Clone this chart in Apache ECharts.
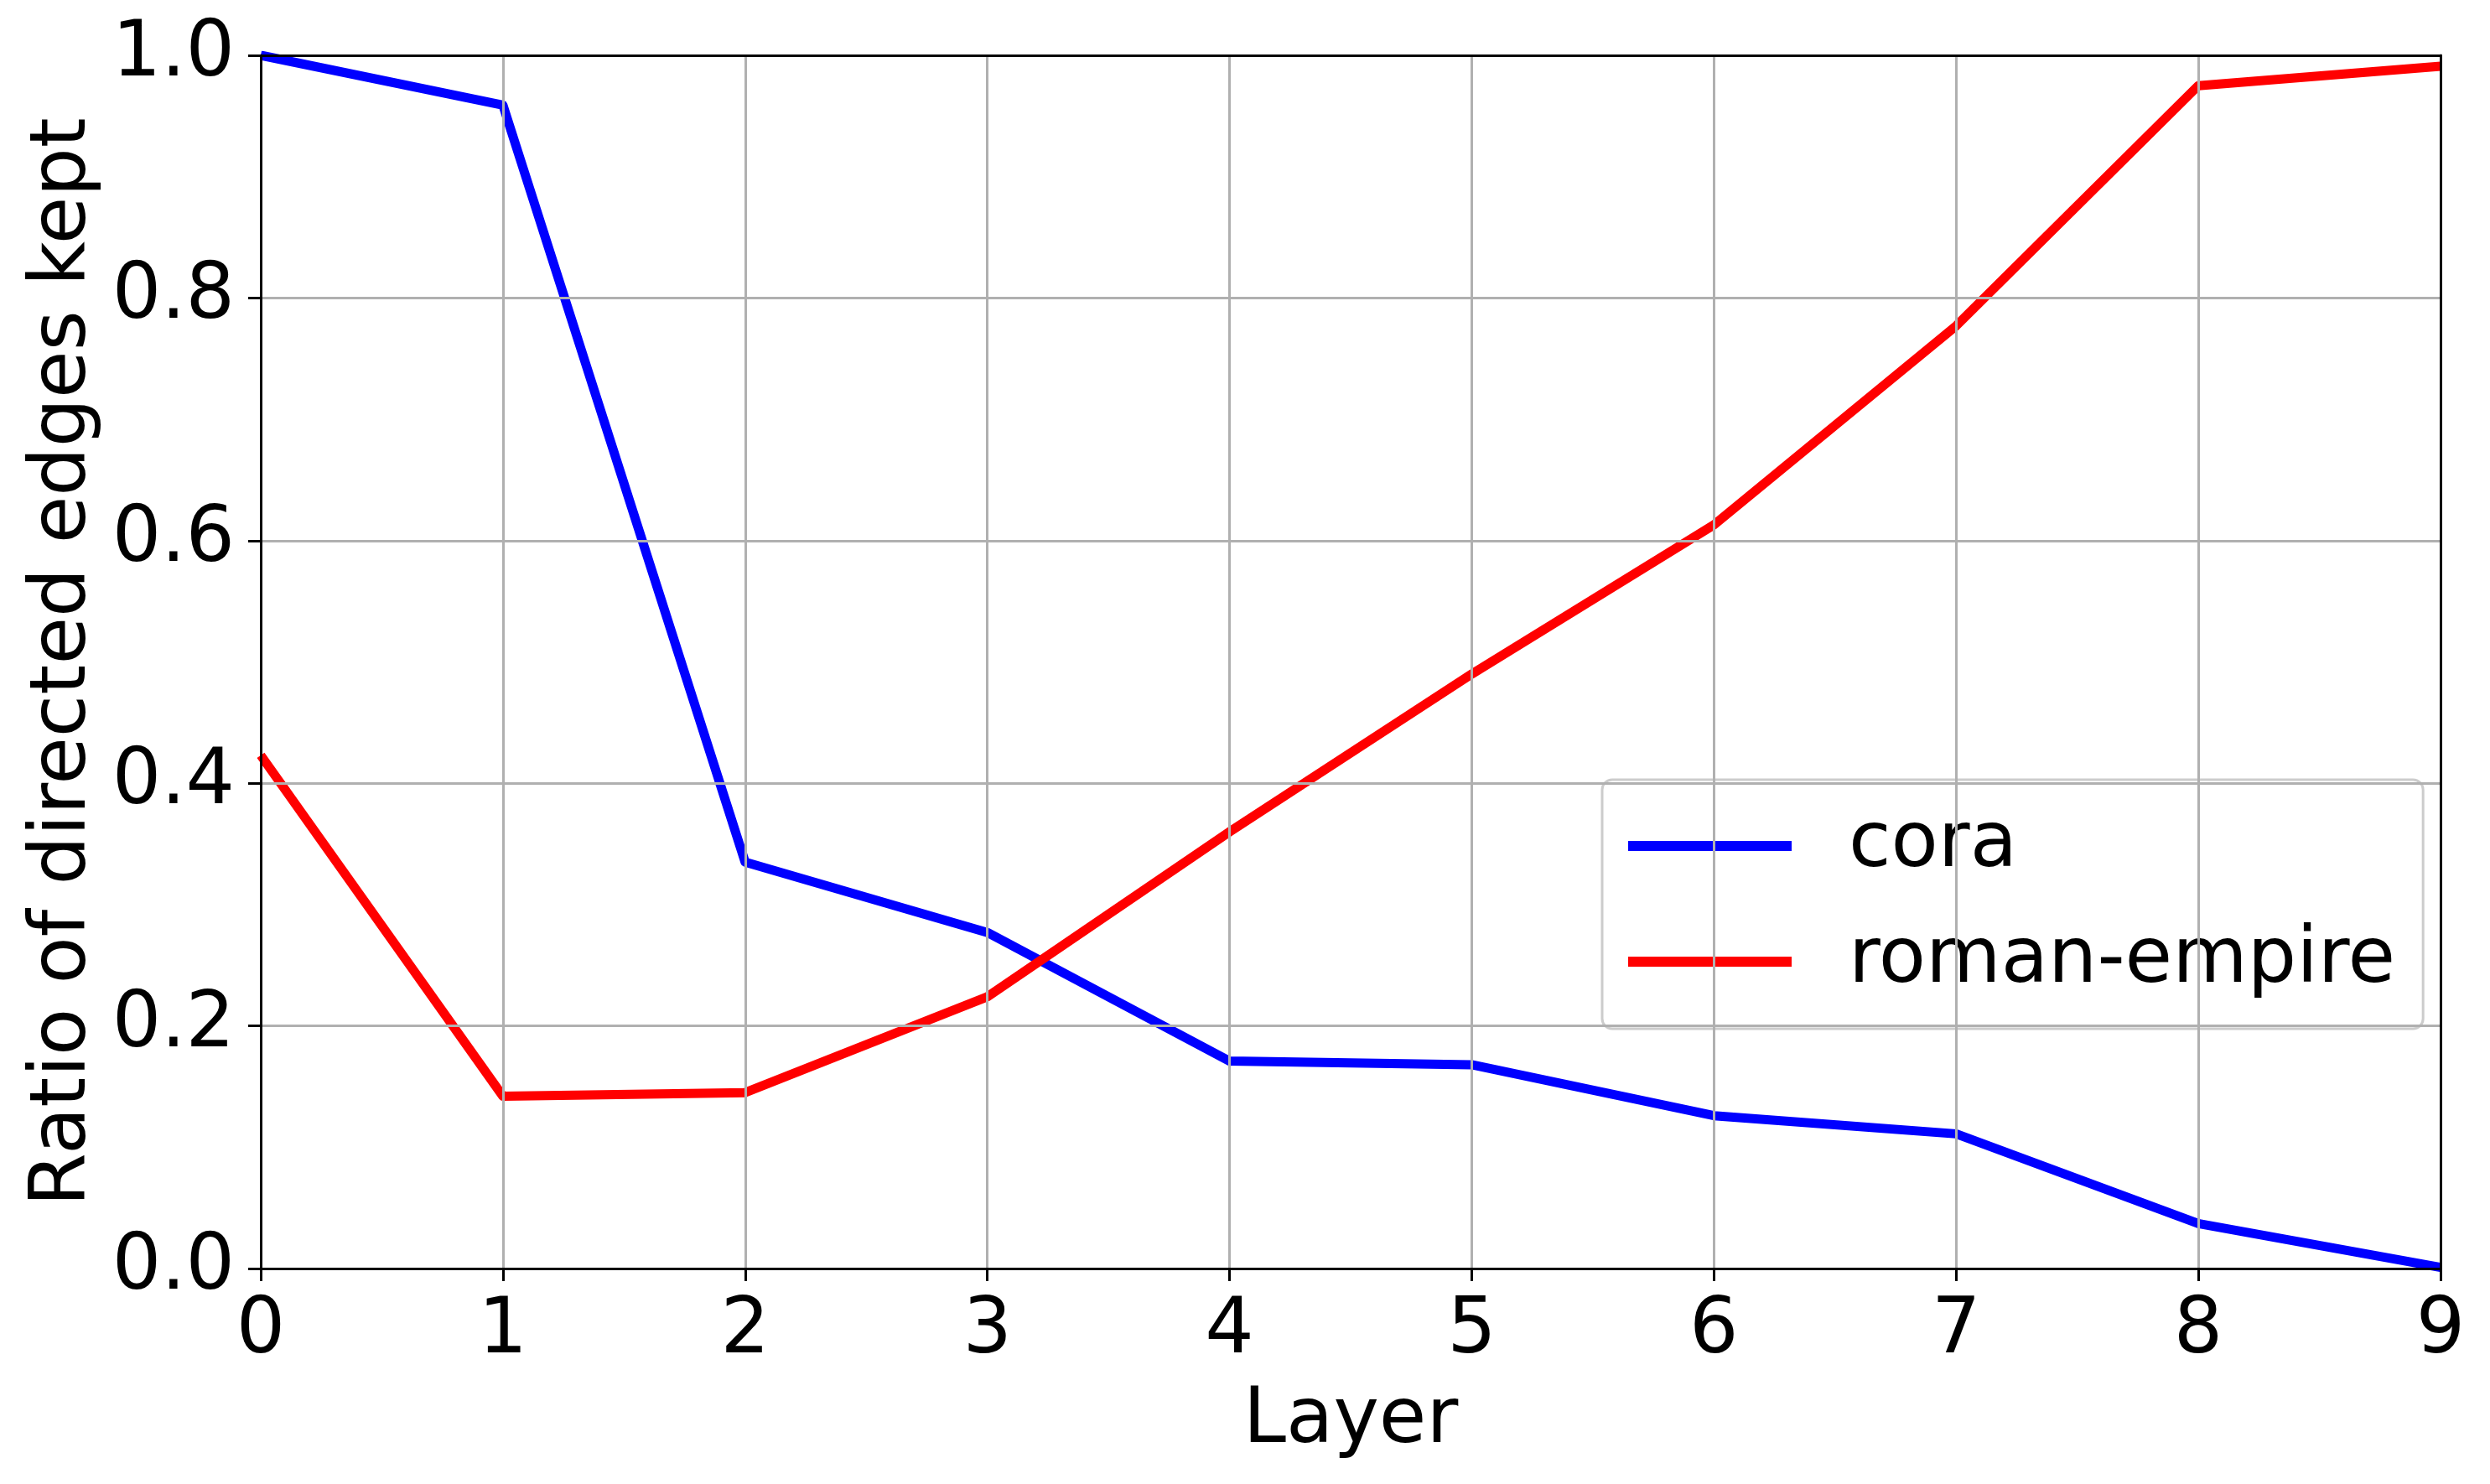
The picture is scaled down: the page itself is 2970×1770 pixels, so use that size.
<!DOCTYPE html>
<html>
<head>
<meta charset="utf-8">
<script src="https://cdn.jsdelivr.net/npm/echarts@6/dist/echarts.min.js"></script>
<style>
html,body{margin:0;padding:0;background:#fff;}
#chart{width:2970px;height:1770px;}
</style>
</head>
<body>
<div id="chart"></div>
<script>
const layers = [0, 1, 2, 3, 4, 5, 6, 7, 8, 9];
const cora = [1.0, 0.959, 0.335, 0.277, 0.171, 0.168, 0.126, 0.111, 0.037, 0.001];
const romanEmpire = [0.423, 0.142, 0.145, 0.224, 0.360, 0.490, 0.613, 0.777, 0.975, 0.991];
const xTicks = [0, 1, 2, 3, 4, 5, 6, 7, 8, 9];
const yTicks = [0.0, 0.2, 0.4, 0.6, 0.8, 1.0];

const FONT = 'DejaVu Sans';
const FS = 92;

const chart = echarts.init(document.getElementById('chart'), null, {renderer: 'canvas'});
const pair = (xs, ys) => xs.map((x, i) => [x, ys[i]]);

const frameAxis = {
  axisLine: {show: true, onZero: false, lineStyle: {color: '#000', width: 3}},
  axisTick: {show: false}, axisLabel: {show: false}, splitLine: {show: false}, z: 5
};

chart.setOption({
  animation: false,
  backgroundColor: '#ffffff',
  textStyle: {fontFamily: FONT},
  grid: {
    left: 311, right: 59, top: 66, bottom: 257,
    show: false
  },
  legend: {
    left: 1911, top: 930,
    orient: 'vertical',
    icon: 'rect',
    itemWidth: 195, itemHeight: 12,
    itemGap: 38,
    padding: [29, 33, 30, 31],
    backgroundColor: 'rgba(255,255,255,0.8)',
    borderColor: '#cccccc', borderWidth: 3, borderRadius: 12,
    textStyle: {fontFamily: FONT, fontSize: FS, color: '#000', lineHeight: 100, padding: [0, 0, 0, 63]},
    data: ['cora', 'roman-empire']
  },
  xAxis: [{
    type: 'value', min: 0, max: 9, interval: 1, position: 'bottom',
    name: 'Layer', nameLocation: 'middle', nameGap: 137,
    nameTextStyle: {fontFamily: FONT, fontSize: FS, color: '#000'},
    axisLine: {show: true, onZero: false, lineStyle: {color: '#000', width: 3}},
    axisTick: {show: true, length: 15, inside: false, lineStyle: {color: '#000', width: 3}},
    axisLabel: {fontFamily: FONT, fontSize: FS, color: '#000', margin: 30,
      formatter: v => (xTicks.includes(v) ? String(v) : '')},
    splitLine: {show: true, lineStyle: {color: '#b0b0b0', width: 3}},
    z: 5
  }, Object.assign({type: 'value', min: 0, max: 9, interval: 1, position: 'top'}, frameAxis)],
  yAxis: [{
    type: 'value', min: 0, max: 1, interval: 0.2, position: 'left',
    name: 'Ratio of directed edges kept', nameLocation: 'middle', nameGap: 184,
    nameTextStyle: {fontFamily: FONT, fontSize: FS, color: '#000'},
    axisLine: {show: true, onZero: false, lineStyle: {color: '#000', width: 3}},
    axisTick: {show: true, length: 15, inside: false, lineStyle: {color: '#000', width: 3}},
    axisLabel: {fontFamily: FONT, fontSize: FS, color: '#000', margin: 31,
      formatter: v => {
        const t = yTicks.find(k => Math.abs(k - v) < 1e-9);
        return t === undefined ? '' : t.toFixed(1);
      }},
    splitLine: {show: true, lineStyle: {color: '#b0b0b0', width: 3}},
    z: 5
  }, Object.assign({type: 'value', min: 0, max: 1, interval: 0.2, position: 'right'}, frameAxis)],
  series: [
    {
      name: 'cora', type: 'line', data: pair(layers, cora),
      xAxisIndex: 0, yAxisIndex: 0,
      showSymbol: false, symbol: 'none', clip: true,
      lineStyle: {color: '#0000ff', width: 11, join: 'round'},
      itemStyle: {color: '#0000ff'}
    },
    {
      name: 'roman-empire', type: 'line', data: pair(layers, romanEmpire),
      xAxisIndex: 0, yAxisIndex: 0,
      showSymbol: false, symbol: 'none', clip: true,
      lineStyle: {color: '#ff0000', width: 11, join: 'round'},
      itemStyle: {color: '#ff0000'}
    }
  ]
});
</script>
</body>
</html>
